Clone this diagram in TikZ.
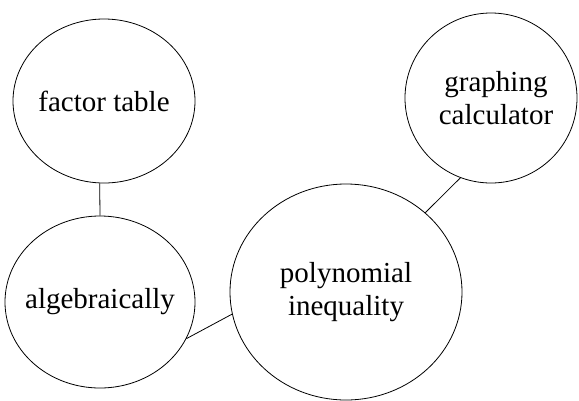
\documentclass[tikz,border=0pt]{standalone}
\usepackage{fontspec}
\setmainfont{Liberation Serif}
\usetikzlibrary{shapes.geometric}
\begin{document}
\begin{tikzpicture}[x=1pt,y=-1pt,
  bubble/.style={draw=black, line width=0.8pt, ellipse, inner sep=0pt},
  txt/.style={align=center, inner sep=0pt, font=\fontsize{29}{33}\selectfont},
  link/.style={draw=black, line width=0.8pt}]
\useasboundingbox (0,0) rectangle (579,400);
\node[bubble, minimum width=182pt, minimum height=164pt,
  label={[txt, name=facT]center:factor table}] (fac) at (104,101) {};
\node[bubble, minimum width=190pt, minimum height=172pt,
  label={[txt, name=algT]center:algebraically}] (alg) at (100,302) {};
\node[bubble, minimum width=232pt, minimum height=216pt,
  label={[txt, name=polyT]center:polynomial\\inequality}] (poly) at (346,292) {};
\node[bubble, minimum width=172pt, minimum height=170pt,
  label={[txt, name=graphT, xshift=5pt]center:graphing\\calculator}] (graph) at (491,98) {};
\draw[link] (fac.-93.5) -- (alg.90.7);
\draw[link] (alg.-23.6) -- (poly.-169.5);
\draw[link] (poly.45.4) -- (graph.-111.2);
\end{tikzpicture}
\end{document}
